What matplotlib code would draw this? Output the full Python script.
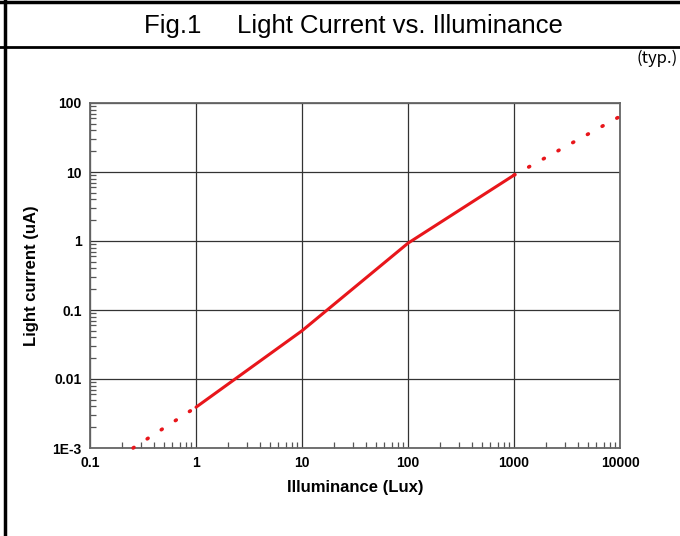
import matplotlib
matplotlib.use("Agg")
import matplotlib.pyplot as plt
from matplotlib.lines import Line2D
from matplotlib.ticker import LogLocator, FixedLocator, FixedFormatter, NullFormatter

plt.rcParams["font.family"] = ["Liberation Sans", "DejaVu Sans"]

# measured (solid) part of the curve
lux_solid = [1, 10, 100, 1000]
current_solid = [0.0039, 0.05, 0.93, 9.0]
# extrapolated (dotted) parts
lux_low = [0.255, 1]
current_low = [0.001, 0.0039]
lux_high = [1000, 10000]
current_high = [9.0, 64]

x_ticks = [0.1, 1, 10, 100, 1000, 10000]
x_labels = ["0.1", "1", "10", "100", "1000", "10000"]
y_ticks = [0.001, 0.01, 0.1, 1, 10, 100]
y_labels = ["1E-3", "0.01", "0.1", "1", "10", "100"]

fig = plt.figure(figsize=(6.8, 5.36), dpi=100)
ax = fig.add_axes([90 / 680, 88 / 536, 530 / 680, 345 / 536])

red = "#e8161b"
ax.plot(lux_solid, current_solid, color=red, lw=2.2, solid_capstyle="round", zorder=3)
for xs, ys in [(lux_low, current_low), (lux_high, current_high)]:
    ax.plot(xs, ys, color=red, lw=2.6, linestyle=(0, (0.3, 4.35)),
            dash_capstyle="round", zorder=3, clip_on=False)

ax.set_xscale("log")
ax.set_yscale("log")
ax.set_xlim(0.1, 10000)
ax.set_ylim(0.001, 100)

ax.xaxis.set_major_locator(FixedLocator(x_ticks))
ax.xaxis.set_major_formatter(FixedFormatter(x_labels))
ax.yaxis.set_major_locator(FixedLocator(y_ticks))
ax.yaxis.set_major_formatter(FixedFormatter(y_labels))
ax.xaxis.set_minor_locator(LogLocator(base=10, subs=range(2, 10), numticks=20))
ax.yaxis.set_minor_locator(LogLocator(base=10, subs=range(2, 10), numticks=20))
ax.xaxis.set_minor_formatter(NullFormatter())
ax.yaxis.set_minor_formatter(NullFormatter())

ax.tick_params(which="major", length=0)
ax.tick_params(which="minor", direction="in", length=4, width=0.9, color="#555555")
ax.tick_params(axis="x", which="major", pad=6)
ax.tick_params(axis="y", which="major", pad=6)
for lab in ax.get_xticklabels() + ax.get_yticklabels():
    lab.set_fontweight("bold")
    lab.set_fontsize(10)

ax.grid(True, which="major", color="#333333", lw=0.9)
for sp in ax.spines.values():
    sp.set_color("#666666")
    sp.set_linewidth(1.3)

ax.set_xlabel("Illuminance (Lux)", fontsize=12, fontweight="bold", labelpad=7)
ax.set_ylabel("Light current (uA)", fontsize=12, fontweight="bold", labelpad=10)

# frame and title band
fig.add_artist(Line2D([0, 1], [1 - 1.5 / 536, 1 - 1.5 / 536], color="black", lw=2.5))
fig.add_artist(Line2D([0, 1], [1 - 47 / 536, 1 - 47 / 536], color="black", lw=2))
fig.add_artist(Line2D([5 / 680, 5 / 680], [0, 1], color="black", lw=2.5))

fig.text(0.52, 1 - 26 / 536, "Fig.1     Light Current vs. Illuminance",
         ha="center", va="center", fontsize=18.5)
fig.text(0.997, 1 - 58 / 536, "(typ.)", ha="right", va="center", fontsize=12,
         family=["Noto Sans CJK JP", "DejaVu Sans"])

fig.savefig("out.png", dpi=100)
